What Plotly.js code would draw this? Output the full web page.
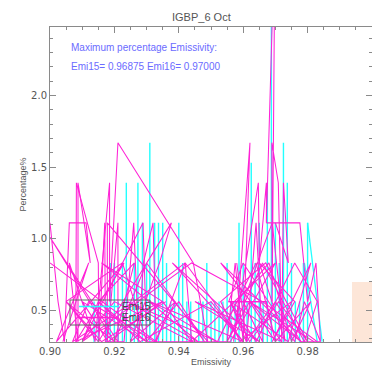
<!DOCTYPE html>
<html>
<head>
<meta charset="utf-8">
<script src="https://cdn.plot.ly/plotly-3.0.1.min.js"></script>
<style>html,body{margin:0;padding:0;background:#fff;}#chart{width:372px;height:367px;}</style>
</head>
<body>
<div id="chart"></div>
<script>
// ---- data ----
const chartTitle = "IGBP_6 Oct";
const xTitle = "Emissivity";
const yTitle = "Percentage%";
const infoLine1 = "Maximum percentage Emissivity:";
const infoLine2 = "Emi15= 0.96875 Emi16= 0.97000";
const seriesNames = ["Emi15", "Emi16"];

// Emi15 (cyan) spikes: emissivity bin and percentage
const emi15X = [0.9137,0.9150,0.9175,0.9187,0.9200,0.9212,0.9225,0.9237,0.9250,0.9262,0.9273,0.9287,0.9300,0.9310,0.9325,0.9337,0.9350,0.9362,0.9375,0.9387,0.9400,0.9412,0.9425,0.9437,0.9450,0.9462,0.9475,0.9487,0.9500,0.9512,0.9525,0.9537,0.9550,0.9562,0.9575,0.9587,0.9600,0.9612,0.9625,0.9637,0.9650,0.9662,0.9675,0.96875,0.9700,0.9712,0.9725,0.9737,0.9750,0.9762,0.9775,0.9787,0.9800];
const emi15Y = [0.56,0.56,0.56,0.83,0.83,0.56,0.83,1.39,0.56,0.83,1.39,1.11,0.83,1.67,1.11,1.11,1.11,0.83,0.56,0.56,1.11,0.83,0.56,0.56,0.28,0.56,0.56,0.83,0.56,0.56,0.56,0.56,0.83,0.56,0.56,1.11,0.83,0.56,1.53,0.83,1.11,0.56,1.39,3.20,1.11,0.83,1.67,1.39,0.83,0.56,0.56,0.83,1.11];
// Emi15 tail segments (drawn as slanted lines)
const emi15TailX = [0.9800,0.9845,0.9790,0.9830];
const emi15TailY = [1.11,0.28,0.83,0.28];

// Emi16 (magenta) points in drawing order
const emi16X_a = [0.9000,0.9025,0.9045,0.9060,0.9112,0.9125,0.9087,0.9087,0.9060,0.9140,0.9185,0.9185,0.9211,0.9445,0.9490,0.9178,0.9178,0.9211,0.9211,0.9000,0.9200,0.9262,0.9150,0.9100,0.9289,0.9300,0.9225,0.9050,0.9150,0.9377,0.9340,0.9250,0.9390,0.9325,0.9120,0.9070,0.9260,0.9420,0.9440,0.9350,0.9180,0.9100,0.9300,0.9400,0.9480,0.9300,0.9200,0.9050,0.9160,0.9360];
const emi16Y_a = [1.11,0.56,0.28,1.11,1.11,0.83,1.39,0.28,0.83,0.28,1.39,0.56,1.67,0.83,0.28,1.11,0.28,1.11,0.28,1.01,0.28,0.83,0.56,0.28,1.11,0.28,0.83,0.56,0.28,1.11,0.83,0.28,0.56,0.28,0.56,0.28,0.56,0.83,0.28,0.56,0.28,0.56,0.28,0.56,0.28,0.83,0.28,0.56,0.28,0.56];
const emi16X_b = [0.9550,0.9575,0.9600,0.9621,0.9585,0.9570,0.9647,0.9650,0.9672,0.9672,0.9699,0.9690,0.9689,0.9709,0.9720,0.9725,0.9740,0.9700,0.9672,0.9776,0.9800,0.9826,0.9840,0.9790,0.9760,0.9600,0.9555,0.9672,0.9700,0.9640,0.9520,0.9580,0.9680,0.9750,0.9810,0.9700,0.9620,0.9550,0.9660,0.9790,0.9830,0.9760,0.9640,0.9560,0.9610,0.9700,0.9780,0.9840];
const emi16Y_b = [0.28,0.83,0.28,1.67,0.56,0.28,1.39,0.83,1.39,1.11,3.20,0.56,1.67,1.39,0.28,1.39,0.83,1.11,1.11,1.11,0.56,0.83,0.28,0.56,0.28,0.83,0.56,0.56,0.28,0.83,0.28,0.56,0.83,0.28,0.56,0.28,0.56,0.28,0.83,0.28,0.56,0.83,0.28,0.56,0.28,0.56,0.28,0.28];
const emi16X_c = [0.9000,0.9330,0.9420,0.9600,0.9500,0.9280,0.9150,0.9300,0.9560,0.9700,0.9440,0.9200,0.9100,0.9440,0.9660,0.9830];
const emi16Y_c = [0.83,0.28,0.83,0.28,0.56,0.28,0.56,0.28,0.28,0.83,0.28,0.56,0.28,0.83,0.56,0.28];
const emi16X_d = [0.9040,0.9120,0.9020,0.9230,0.9080,0.9350,0.9160,0.9460,0.9240,0.9520,0.9310,0.9600,0.9380,0.9650,0.9450,0.9720,0.9530,0.9780,0.9620,0.9820];
const emi16Y_d = [0.28,0.83,0.28,0.83,0.28,0.56,0.83,0.28,0.56,0.28,0.56,0.28,0.83,0.28,0.56,0.28,0.83,0.28,0.56,0.28];
const emi16X_e = [0.9580,0.9610,0.9640,0.9660,0.9600,0.9690,0.9730,0.9650,0.9760,0.9690,0.9810,0.9740,0.9560,0.9620,0.9710,0.9800,0.9670,0.9530,0.9590,0.9750];
const emi16Y_e = [0.83,0.28,1.11,0.28,0.56,1.11,0.28,0.83,0.56,0.28,0.83,0.28,0.56,0.28,0.56,0.28,0.83,0.56,0.28,0.56];
const emi16X_f = [0.9080,0.9082,0.9150,0.9152,0.9170,0.9172,0.9230,0.9260,0.9275,0.9290,0.9320,0.9330,0.9555,0.9672];
const emi16Y_f = [0.28,1.39,0.83,0.28,1.11,0.28,0.28,1.11,0.28,0.83,1.11,0.28,0.56,0.56];

// peach block at the right edge
const blockX = [1.0];
const blockY = [0.70];

// ---- build traces ----
const CYAN = "#22ffff", MAG = "#ff22d6";
const spikeX = [], spikeY = [];
emi15X.forEach((x, i) => { spikeX.push(x, x, x); spikeY.push(0, emi15Y[i], 0); });

const magLine = (x, y) => ({type:"scatter", mode:"lines", x:x, y:y, line:{color:MAG, width:1.05}, showlegend:false});

const traces = [
  {type:"bar", x:blockX, y:blockY, width:0.0125, marker:{color:"#fde6d8", line:{width:0}}, showlegend:false, hoverinfo:"skip"},
  {type:"scatter", mode:"lines", x:spikeX, y:spikeY, line:{color:CYAN, width:1.4}, showlegend:false},
  {type:"scatter", mode:"lines", x:emi15TailX.slice(0,2), y:emi15TailY.slice(0,2), line:{color:CYAN, width:1.3}, showlegend:false},
  {type:"scatter", mode:"lines", x:emi15TailX.slice(2), y:emi15TailY.slice(2), line:{color:CYAN, width:1.3}, showlegend:false},
  magLine(emi16X_a, emi16Y_a),
  magLine(emi16X_b, emi16Y_b),
  magLine(emi16X_c, emi16Y_c),
  magLine(emi16X_d, emi16Y_d),
  magLine(emi16X_e, emi16Y_e),
  magLine(emi16X_f.slice(0,12), emi16Y_f.slice(0,12)),
  magLine(emi16X_f.slice(12), emi16Y_f.slice(12))
];

const AX = "#8a8a8a", TXT = "#555555";
const L = 50, T = 27, W = 322, H = 315;
const px = v => (v - L) / W, py = v => (T + H - v) / H;

const layout = {
  width:372, height:367,
  margin:{l:L, r:0, t:T, b:367 - T - H, pad:0},
  paper_bgcolor:"#ffffff", plot_bgcolor:"#ffffff",
  font:{family:"Liberation Sans, Arial, sans-serif", color:TXT, size:10},
  bargap:0,
  xaxis:{range:[0.9, 1.0], tick0:0.9, dtick:0.02, tickformat:".2f",
    ticks:"inside", ticklen:6, tickcolor:AX, tickwidth:1,
    minor:{dtick:0.005, ticks:"inside", ticklen:3, tickcolor:AX},
    showline:true, linecolor:AX, linewidth:1, mirror:"ticks",
    showgrid:false, zeroline:false, tickfont:{family:"DejaVu Sans", size:10, color:TXT},
    title:{text:xTitle, font:{size:9, color:TXT}, standoff:4}},
  yaxis:{range:[0.2778, 2.478], tick0:0, dtick:0.5, tickformat:".1f",
    ticks:"inside", ticklen:6, tickcolor:AX, tickwidth:1,
    minor:{dtick:0.1, ticks:"inside", ticklen:3, tickcolor:AX},
    showline:true, linecolor:AX, linewidth:1, mirror:"ticks",
    showgrid:false, zeroline:false, tickfont:{family:"DejaVu Sans", size:10, color:TXT},
    title:{text:yTitle, font:{size:9, color:TXT}, standoff:2}},
  shapes:[
    {type:"rect", xref:"paper", yref:"paper", x0:px(70), x1:px(150), y0:py(325), y1:py(300), line:{color:"#666", width:1}, fillcolor:"rgba(0,0,0,0)"},
    {type:"line", xref:"paper", yref:"paper", x0:px(79), x1:px(119), y0:py(306.5), y1:py(306.5), line:{color:CYAN, width:1.3}},
    {type:"line", xref:"paper", yref:"paper", x0:px(79), x1:px(119), y0:py(317.5), y1:py(317.5), line:{color:MAG, width:1.3}}
  ],
  annotations:[
    {text:chartTitle, xref:"paper", yref:"paper", x:px(201), y:py(17), xanchor:"center", yanchor:"middle", showarrow:false, font:{size:11, color:TXT}},
    {text:infoLine1, xref:"paper", yref:"paper", x:px(69), y:py(47), xanchor:"left", yanchor:"middle", showarrow:false, font:{size:10, color:"#6b6bff"}},
    {text:infoLine2, xref:"paper", yref:"paper", x:px(69), y:py(66), xanchor:"left", yanchor:"middle", showarrow:false, font:{size:10, color:"#6b6bff"}},
    {text:seriesNames[0], xref:"paper", yref:"paper", x:px(120), y:py(306.5), xanchor:"left", yanchor:"middle", showarrow:false, font:{size:10, color:"#444"}},
    {text:seriesNames[1], xref:"paper", yref:"paper", x:px(120), y:py(317.5), xanchor:"left", yanchor:"middle", showarrow:false, font:{size:10, color:"#444"}}
  ]
};

Plotly.newPlot("chart", traces, layout, {staticPlot:true, displayModeBar:false});
</script>
</body>
</html>
